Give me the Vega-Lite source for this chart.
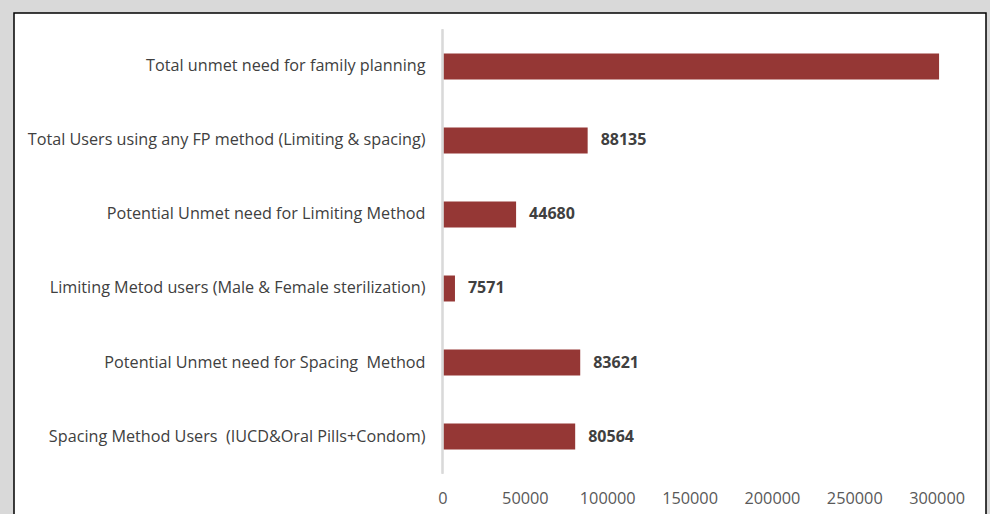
{
  "$schema": "https://vega.github.io/schema/vega-lite/v6.json",
  "autosize": "none",
  "padding": {"left": 14, "top": 13, "right": 4, "bottom": 0},
  "width": 972,
  "height": 502,
  "background": "#d9d9d9",
  "config": {
    "font": "Open Sans",
    "view": {"fill": "#ffffff", "stroke": "#000000", "strokeWidth": 1.5}
  },
  "data": {
    "values": [
      {"category": "Total unmet need for family planning", "value": 301500},
      {"category": "Total Users using any FP method (Limiting & spacing)", "value": 88135},
      {"category": "Potential Unmet need for Limiting Method", "value": 44680},
      {"category": "Limiting Metod users (Male & Female sterilization)", "value": 7571},
      {"category": "Potential Unmet need for Spacing \u00a0Method", "value": 83621},
      {"category": "Spacing Method Users \u00a0(IUCD&Oral Pills+Condom)", "value": 80564}
    ]
  },
  "encoding": {
    "y": {
      "field": "category",
      "type": "nominal",
      "sort": null,
      "scale": {
        "domain": [
          "Total unmet need for family planning",
          "Total Users using any FP method (Limiting & spacing)",
          "Potential Unmet need for Limiting Method",
          "Limiting Metod users (Male & Female sterilization)",
          "Potential Unmet need for Spacing \u00a0Method",
          "Spacing Method Users \u00a0(IUCD&Oral Pills+Condom)"
        ],
        "paddingInner": 0.649, "paddingOuter": 0.716, "align": 0.382
      },
      "axis": null
    }
  },
  "layer": [
    {
      "mark": {"type": "bar", "color": "#953735"},
      "encoding": {
        "x": {
          "field": "value",
          "type": "quantitative",
          "scale": {"domain": [-260170, 329993], "nice": false, "zero": false},
          "axis": {
            "values": [0, 50000, 100000, 150000, 200000, 250000, 300000],
            "format": "d",
            "title": null,
            "domain": false,
            "ticks": false,
            "tickSize": 0,
            "grid": false,
            "offset": -27,
            "labelPadding": 2,
            "labelFontSize": 16.3,
            "labelColor": "#595959",
            "labelFont": "Open Sans"
          }
        }
      }
    },
    {
      "mark": {"type": "rule", "color": "#d9d9d9", "strokeWidth": 1.5, "yOffset": -37, "y2Offset": 37},
      "encoding": {
        "x": {"datum": 0, "type": "quantitative"},
        "y": {"datum": "Total unmet need for family planning", "type": "nominal"},
        "y2": {"datum": "Spacing Method Users \u00a0(IUCD&Oral Pills+Condom)"}
      }
    },
    {
      "mark": {"type": "text", "align": "right", "baseline": "middle", "dx": -17, "fontSize": 16.2, "color": "#404040"},
      "encoding": {
        "x": {"datum": 0, "type": "quantitative"},
        "text": {"field": "category"}
      }
    },
    {
      "transform": [{"filter": "datum.category != 'Total unmet need for family planning'"}],
      "mark": {"type": "text", "align": "left", "baseline": "middle", "dx": 13, "fontSize": 16, "fontWeight": "bold", "color": "#404040"},
      "encoding": {
        "x": {"field": "value", "type": "quantitative"},
        "text": {"field": "value", "type": "quantitative", "format": "d"}
      }
    }
  ]
}
